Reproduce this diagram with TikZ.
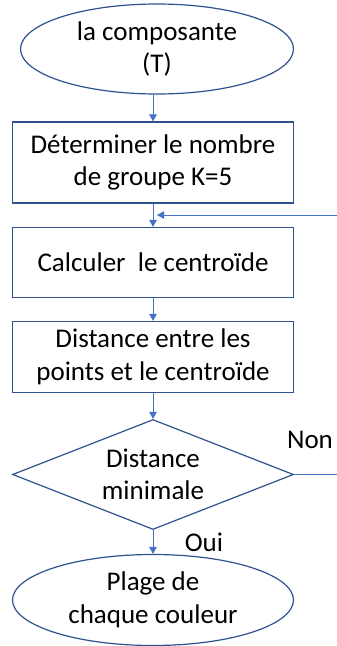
\documentclass[tikz,border=0pt]{standalone}
\usepackage{fontspec}
\setmainfont{Carlito}
\usetikzlibrary{shapes.geometric,arrows.meta}
\definecolor{edgeblue}{RGB}{47,82,143}
\definecolor{lineblue}{RGB}{68,114,196}
\begin{document}
\begin{tikzpicture}
    [
    x=1pt,y=-1pt,
    terminal/.style={ellipse,draw=edgeblue,line width=1.2pt,inner sep=0pt,align=center,font=\fontsize{27}{32.5}\selectfont},
    process/.style={rectangle,draw=edgeblue,line width=1.2pt,inner sep=0pt,minimum width=281pt,align=center,font=\fontsize{27}{32.5}\selectfont},
    decision/.style={diamond,draw=edgeblue,line width=1.2pt,inner sep=0pt,aspect=2.57,minimum width=281pt,minimum height=110pt,align=center,font=\fontsize{27}{32.5}\selectfont},
    flow/.style={draw=lineblue,line width=0.9pt,-{Triangle[width=7.5pt,length=7pt]}},
    tag/.style={font=\fontsize{27}{32.5}\selectfont}
    ]
    \useasboundingbox (0,0) rectangle (337,646);
    \node (comp) at (157,49) [terminal,minimum width=273pt,minimum height=90pt] {la composante\\(T)};
    \node (det) at (153,162.5) [process,minimum height=81pt] {Déterminer le nombre\\de groupe K=5};
    \node (calc) at (153,262.5) [process,minimum height=70pt] {Calculer \ le centroïde};
    \node (dist) at (153,357) [process,minimum height=71pt] {Distance entre les\\points et le centroïde};
    \node (mini) at (153,474.5) [decision] {Distance\\minimale};
    \node (plage) at (153,600) [terminal,minimum width=281pt,minimum height=91pt] {Plage de\\chaque couleur};
    \node (non) at (310,440) [tag] {Non};
    \node (oui) at (204,542) [tag] {Oui};
    \coordinate (join) at (153,215);
    \coordinate (back) at (337,215);
    \coordinate (out) at (337,474.5);
    \draw [flow] (det.north |- comp.south) to (det.north);
    \draw [flow] (det) to (calc);
    \draw [flow,shorten >=4pt] (back) to (join);
    \draw [flow] (calc) to (dist);
    \draw [flow] (dist) to (mini);
    \draw [flow] (mini) to (plage);
    \draw [flow,-] (mini.east) to (out);
  \end{tikzpicture}
\end{document}
